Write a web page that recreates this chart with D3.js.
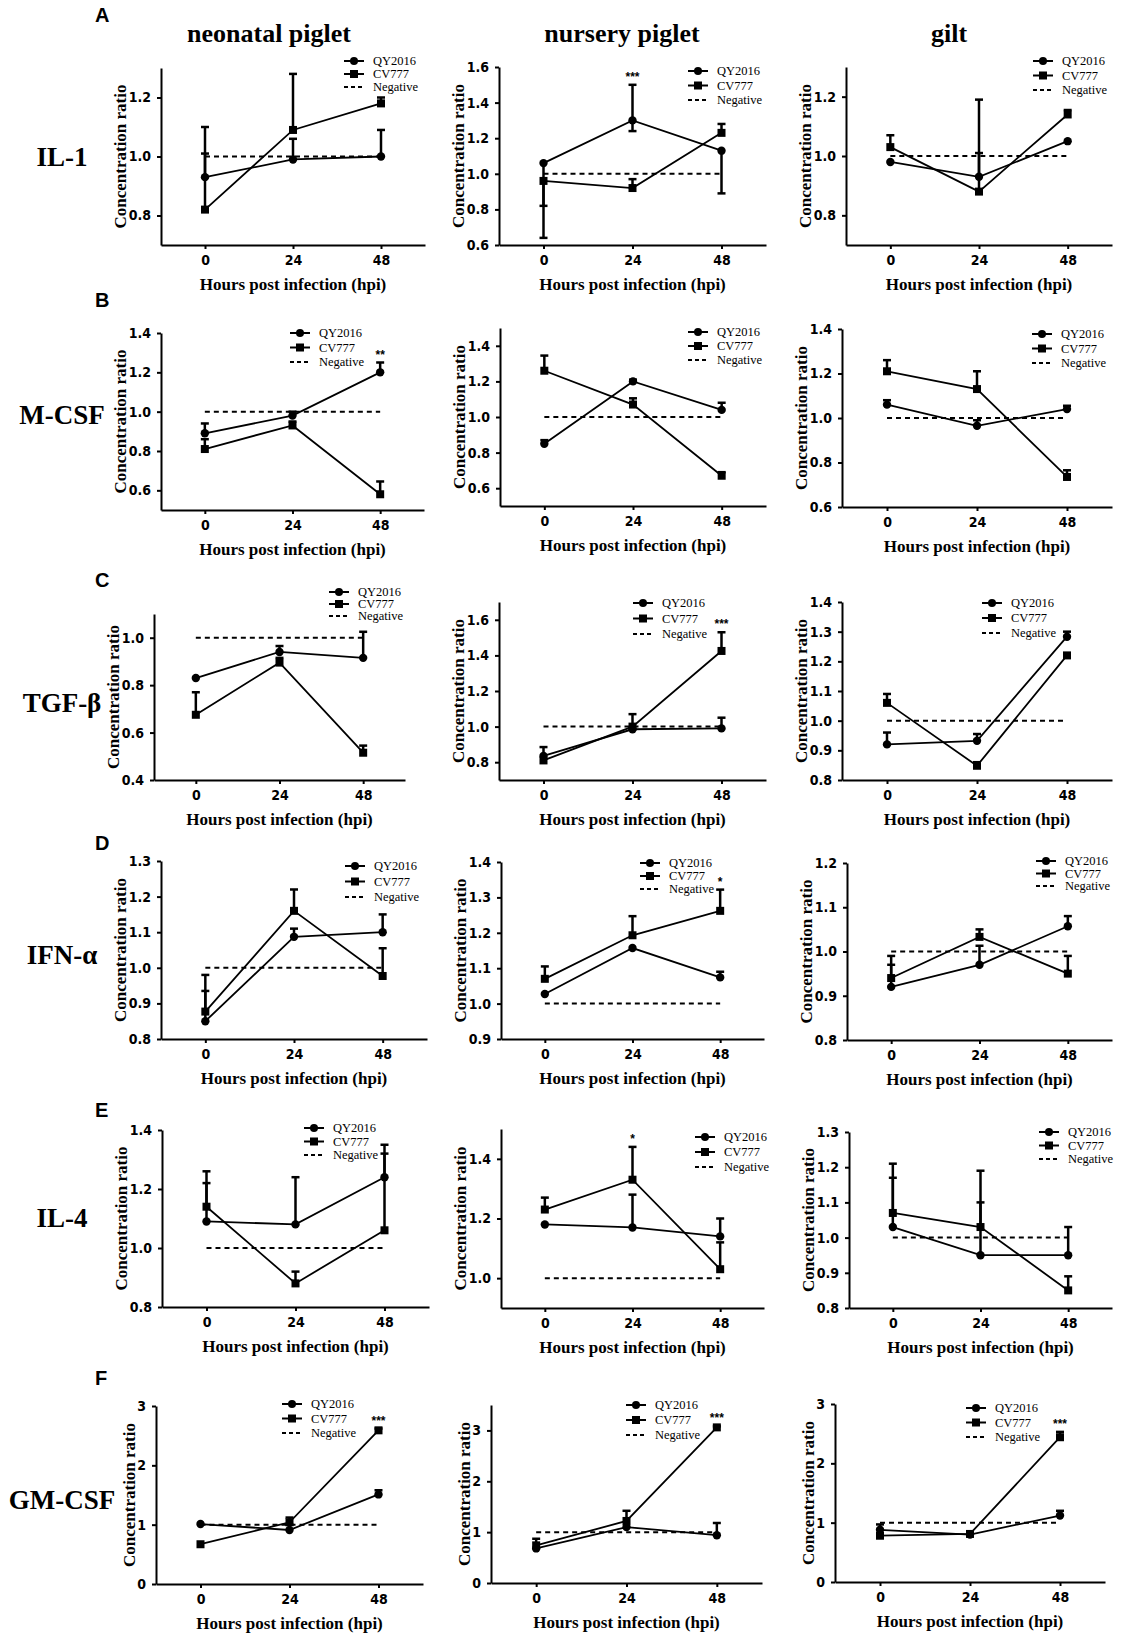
<!DOCTYPE html>
<html>
<head>
<meta charset="utf-8">
<script src="https://cdn.jsdelivr.net/npm/d3@7/dist/d3.min.js"></script>
<style>
body{margin:0;background:#fff;}
.axis path,.axis line{stroke:#000;stroke-width:2px;}
.axis text{font-family:"Liberation Sans Narrow","DejaVu Sans Condensed","Liberation Sans",sans-serif;font-weight:bold;font-size:14px;fill:#000;}
.serif{font-family:"Liberation Serif","Times New Roman",serif;font-weight:bold;fill:#000;}
.legendText{font-family:"Liberation Serif","Times New Roman",serif;font-size:12.5px;fill:#000;}
.letter{font-family:"Liberation Sans",Arial,sans-serif;font-weight:bold;font-size:20px;}
.star{font-family:"Liberation Sans",Arial,sans-serif;font-size:12px;font-weight:bold;}
</style>
</head>
<body>
<script>
// ---- data ----
var hours = [0, 24, 48];
var groups = ["neonatal piglet", "nursery piglet", "gilt"];
var cytokines = ["IL-1", "M-CSF", "TGF-\u03b2", "IFN-\u03b1", "IL-4", "GM-CSF"];
var letters = ["A", "B", "C", "D", "E", "F"];
var seriesNames = ["QY2016", "CV777", "Negative"];
var negValue = 1.0;

// mean values [row][col][hour]
var qyMean = [
    [[0.93, 0.99, 1.00], [1.06, 1.30, 1.13], [0.98, 0.93, 1.05]],
    [[0.89, 0.98, 1.20], [0.85, 1.20, 1.04], [1.06, 0.965, 1.04]],
    [[0.83, 0.94, 0.915], [0.835, 0.985, 0.99], [0.92, 0.932, 1.283]],
    [[0.85, 1.087, 1.10], [1.027, 1.157, 1.074], [0.92, 0.97, 1.057]],
    [[1.09, 1.08, 1.24], [1.18, 1.17, 1.14], [1.03, 0.95, 0.95]],
    [[1.01, 0.91, 1.51], [0.68, 1.10, 0.94], [0.88, 0.80, 1.12]]
];
var cvMean = [
    [[0.82, 1.09, 1.18], [0.96, 0.92, 1.23], [1.03, 0.88, 1.14]],
    [[0.81, 0.93, 0.58], [1.26, 1.07, 0.67], [1.21, 1.13, 0.735]],
    [[0.675, 0.895, 0.515], [0.81, 1.00, 1.425], [1.06, 0.848, 1.22]],
    [[0.877, 1.16, 0.977], [1.07, 1.193, 1.262], [0.94, 1.033, 0.95]],
    [[1.14, 0.88, 1.06], [1.23, 1.33, 1.03], [1.07, 1.03, 0.85]],
    [[0.67, 1.04, 2.59], [0.74, 1.22, 3.06], [0.78, 0.81, 2.44]]
];
// upper ends of error bars (null = no bar)
var qyHigh = [
    [[1.10, 1.06, 1.09], [null, 1.50, null], [null, 1.19, null]],
    [[0.94, 1.00, 1.25], [0.87, 1.21, 1.08], [1.08, 0.99, 1.055]],
    [[null, 0.965, 1.025], [null, null, 1.05], [0.96, 0.955, 1.30]],
    [[0.935, 1.11, 1.15], [null, null, 1.09], [0.97, 1.013, 1.08]],
    [[1.22, 1.24, 1.32], [null, 1.28, 1.20], [1.17, 1.10, 1.03]],
    [[null, 1.00, 1.58], [null, null, 1.18], [0.97, null, 1.20]]
];
var cvHigh = [
    [[1.01, 1.28, 1.20], [null, 0.97, 1.28], [1.07, 1.01, 1.155]],
    [[0.86, 0.95, 0.645], [1.345, 1.105, 0.69], [1.26, 1.21, 0.765]],
    [[0.77, 0.915, 0.545], [0.885, 1.07, 1.53], [1.09, 0.86, null]],
    [[0.98, 1.22, 1.055], [1.105, 1.247, 1.322], [0.99, 1.05, 0.99]],
    [[1.26, 0.92, 1.35], [1.27, 1.44, 1.12], [1.21, 1.19, 0.89]],
    [[null, 1.12, 2.62], [0.87, 1.42, 3.08], [null, null, 2.53]]
];
// lower ends of error bars (only nursery piglet IL-1 has them)
var qyLow = [
    [[null, null, null], [0.82, 1.24, 0.89], [null, null, null]],
    [[null, null, null], [null, null, null], [null, null, null]],
    [[null, null, null], [null, null, null], [null, null, null]],
    [[null, null, null], [null, null, null], [null, null, null]],
    [[null, null, null], [null, null, null], [null, null, null]],
    [[null, null, null], [null, null, null], [null, null, null]]
];
var cvLow = [
    [[null, null, null], [0.64, null, null], [null, null, null]],
    [[null, null, null], [null, null, null], [null, null, null]],
    [[null, null, null], [null, null, null], [null, null, null]],
    [[null, null, null], [null, null, null], [null, null, null]],
    [[null, null, null], [null, null, null], [null, null, null]],
    [[null, null, null], [null, null, null], [null, null, null]]
];

var yDomains = [
    [[0.7, 1.3], [0.6, 1.6], [0.7, 1.3]],
    [[0.5, 1.4], [0.5, 1.5], [0.6, 1.4]],
    [[0.4, 1.1], [0.7, 1.7], [0.8, 1.4]],
    [[0.8, 1.3], [0.9, 1.4], [0.8, 1.2]],
    [[0.8, 1.4], [0.9, 1.5], [0.8, 1.3]],
    [[0, 3], [0, 3.5], [0, 3]]
];
var yTicks = [
    [[0.8, 1.0, 1.2], [0.6, 0.8, 1.0, 1.2, 1.4, 1.6], [0.8, 1.0, 1.2]],
    [[0.6, 0.8, 1.0, 1.2, 1.4], [0.6, 0.8, 1.0, 1.2, 1.4], [0.6, 0.8, 1.0, 1.2, 1.4]],
    [[0.4, 0.6, 0.8, 1.0], [0.8, 1.0, 1.2, 1.4, 1.6], [0.8, 0.9, 1.0, 1.1, 1.2, 1.3, 1.4]],
    [[0.8, 0.9, 1.0, 1.1, 1.2, 1.3], [0.9, 1.0, 1.1, 1.2, 1.3, 1.4], [0.8, 0.9, 1.0, 1.1, 1.2]],
    [[0.8, 1.0, 1.2, 1.4], [1.0, 1.2, 1.4], [0.8, 0.9, 1.0, 1.1, 1.2, 1.3]],
    [[0, 1, 2, 3], [0, 1, 2, 3], [0, 1, 2, 3]]
];

// significance marks: [row, col, hour index, series ("qy"/"cv"), label]
var stars = [
    [0, 1, 1, "qy", "***"],
    [1, 0, 2, "qy", "**"],
    [2, 1, 2, "cv", "***"],
    [3, 1, 2, "cv", "*"],
    [4, 1, 1, "cv", "*"],
    [5, 0, 2, "cv", "***"],
    [5, 1, 2, "cv", "***"],
    [5, 2, 2, "cv", "***"]
];

// ---- layout ----
var W = 1121, H = 1637;

// plot frame of each panel: [yAxisX, xAxisEnd, top, bottom]
var frames = [
    [[161, 425, 68, 245], [499, 766, 67, 245], [846, 1112, 67, 245]],
    [[161, 424, 333, 510], [500, 766, 328, 506], [842, 1112, 329, 507]],
    [[154, 405, 614, 780], [499, 766, 602, 780], [842, 1112, 602, 780]],
    [[161, 427, 861, 1039], [501, 764, 862, 1039], [847, 1112, 863, 1040]],
    [[162, 429, 1130, 1307], [501, 764, 1129, 1308], [849, 1112, 1132, 1308]],
    [[156, 423, 1406, 1584], [491, 762, 1405, 1583], [835, 1105, 1404, 1582]]
];
// legend [left x, first row y, row step]
var legends = [
    [[344, 61, 13], [688, 71, 14.5], [1033, 61, 14.5]],
    [[290, 333, 14.5], [688, 332, 14], [1032, 334, 14.5]],
    [[329, 592, 12], [633, 603, 15.5], [982, 603, 15]],
    [[345, 866, 15.5], [640, 863, 13], [1036, 861, 12.5]],
    [[304, 1128, 13.5], [695, 1137, 15], [1039, 1132, 13.5]],
    [[282, 1404, 14.5], [626, 1405, 15], [966, 1408, 14.5]]
];
var rowLabelY = [157, 415, 703, 955, 1218, 1500];
var letterY = [15, 300, 580, 843, 1110, 1378];
var titleX = [269, 622, 949];

var svg = d3.select("body").append("svg")
    .attr("width", W)
    .attr("height", H);

// column titles
svg.selectAll(".colTitle")
    .data(groups)
    .enter()
    .append("text")
    .attr("class", "colTitle serif")
    .attr("x", function(d, i){ return titleX[i]; })
    .attr("y", 42)
    .attr("text-anchor", "middle")
    .style("font-size", "26px")
    .text(function(d){ return d; });

// row labels and panel letters
svg.selectAll(".rowLabel")
    .data(cytokines)
    .enter()
    .append("text")
    .attr("class", "rowLabel serif")
    .attr("x", 62)
    .attr("y", function(d, i){ return rowLabelY[i] + 9; })
    .attr("text-anchor", "middle")
    .style("font-size", "27px")
    .text(function(d){ return d; });

svg.selectAll(".letter")
    .data(letters)
    .enter()
    .append("text")
    .attr("class", "letter")
    .attr("x", 95)
    .attr("y", function(d, i){ return letterY[i] + 7; })
    .text(function(d){ return d; });

function drawPanel(r, c){
    var f = frames[r][c];
    var g = svg.append("g").attr("class", "panel");

    var x = d3.scaleLinear().domain([-12, 60]).range([f[0], f[1]]);
    var y = d3.scaleLinear().domain(yDomains[r][c]).range([f[3], f[2]]);
    var fmt = r === 5 ? d3.format("d") : d3.format(".1f");

    g.append("g")
        .attr("class", "axis")
        .attr("transform", "translate(" + f[0] + ",0)")
        .call(d3.axisLeft(y).tickValues(yTicks[r][c]).tickFormat(fmt)
            .tickSize(4).tickSizeOuter(0).tickPadding(6));

    g.append("g")
        .attr("class", "axis")
        .attr("transform", "translate(0," + f[3] + ")")
        .call(d3.axisBottom(x).tickValues(hours).tickFormat(d3.format("d"))
            .tickSize(4).tickSizeOuter(0).tickPadding(6));

    // axis titles
    var yOff = r === 5 ? 27 : 41;
    g.append("text")
        .attr("class", "serif")
        .attr("transform", "translate(" + (f[0] - yOff) + "," + ((f[2] + f[3]) / 2) + ") rotate(-90)")
        .attr("text-anchor", "middle")
        .attr("dy", "0.35em")
        .style("font-size", "17px")
        .text("Concentration ratio");

    g.append("text")
        .attr("class", "serif")
        .attr("x", x(24))
        .attr("y", f[3] + 45)
        .attr("text-anchor", "middle")
        .style("font-size", "17px")
        .text("Hours post infection (hpi)");

    // negative control line
    g.append("line")
        .attr("x1", x(hours[0]))
        .attr("x2", x(hours[2]))
        .attr("y1", y(negValue))
        .attr("y2", y(negValue))
        .attr("stroke", "#000")
        .attr("stroke-width", 2)
        .attr("stroke-dasharray", "5,4");

    var series = [
        {key: "qy", mean: qyMean[r][c], hi: qyHigh[r][c], lo: qyLow[r][c]},
        {key: "cv", mean: cvMean[r][c], hi: cvHigh[r][c], lo: cvLow[r][c]}
    ];

    // error bars
    series.forEach(function(s){
        hours.forEach(function(h, i){
            [s.hi[i], s.lo[i]].forEach(function(end){
                if (end === null) return;
                g.append("line")
                    .attr("x1", x(h)).attr("x2", x(h))
                    .attr("y1", y(s.mean[i])).attr("y2", y(end))
                    .attr("stroke", "#000").attr("stroke-width", 2.5);
                g.append("line")
                    .attr("x1", x(h) - 4).attr("x2", x(h) + 4)
                    .attr("y1", y(end)).attr("y2", y(end))
                    .attr("stroke", "#000").attr("stroke-width", 2.5);
            });
        });
    });

    // connecting lines
    var line = d3.line()
        .x(function(d, i){ return x(hours[i]); })
        .y(function(d){ return y(d); });

    series.forEach(function(s){
        g.append("path")
            .datum(s.mean)
            .attr("d", line)
            .attr("fill", "none")
            .attr("stroke", "#000")
            .attr("stroke-width", 1.8);
    });

    // markers
    g.selectAll(".qyDot")
        .data(series[0].mean)
        .enter()
        .append("circle")
        .attr("class", "qyDot")
        .attr("cx", function(d, i){ return x(hours[i]); })
        .attr("cy", function(d){ return y(d); })
        .attr("r", 4.2)
        .attr("fill", "#000");

    g.selectAll(".cvDot")
        .data(series[1].mean)
        .enter()
        .append("rect")
        .attr("class", "cvDot")
        .attr("x", function(d, i){ return x(hours[i]) - 4; })
        .attr("y", function(d){ return y(d) - 4; })
        .attr("width", 8)
        .attr("height", 8)
        .attr("fill", "#000");

    // significance marks
    stars.filter(function(s){ return s[0] === r && s[1] === c; })
        .forEach(function(s){
            var hiArr = s[3] === "qy" ? qyHigh[r][c] : cvHigh[r][c];
            var mArr = s[3] === "qy" ? qyMean[r][c] : cvMean[r][c];
            var top = hiArr[s[2]] !== null ? hiArr[s[2]] : mArr[s[2]];
            g.append("text")
                .attr("class", "star")
                .attr("x", x(hours[s[2]]))
                .attr("y", y(top) - 4)
                .attr("text-anchor", "middle")
                .text(s[4]);
        });

    // legend
    var lg = legends[r][c];
    var leg = g.append("g").attr("transform", "translate(" + lg[0] + "," + lg[1] + ")");
    seriesNames.forEach(function(name, i){
        var ly = i * lg[2];
        leg.append("line")
            .attr("x1", 0).attr("x2", 20)
            .attr("y1", ly).attr("y2", ly)
            .attr("stroke", "#000")
            .attr("stroke-width", 2)
            .attr("stroke-dasharray", i === 2 ? "4,3" : null);
        if (i === 0) {
            leg.append("circle").attr("cx", 10).attr("cy", ly).attr("r", 4).attr("fill", "#000");
        } else if (i === 1) {
            leg.append("rect").attr("x", 6).attr("y", ly - 4).attr("width", 8).attr("height", 8).attr("fill", "#000");
        }
        leg.append("text")
            .attr("class", "legendText")
            .attr("x", 29)
            .attr("y", ly)
            .attr("dy", "0.35em")
            .text(name);
    });
}

for (var r = 0; r < cytokines.length; r++) {
    for (var c = 0; c < groups.length; c++) {
        drawPanel(r, c);
    }
}
</script>
</body>
</html>
